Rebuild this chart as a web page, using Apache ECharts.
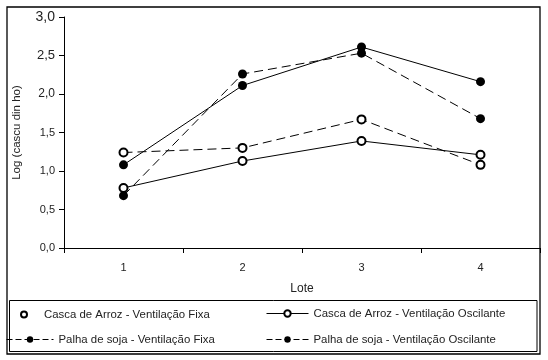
<!DOCTYPE html>
<html>
<head>
<meta charset="utf-8">
<script src="https://cdn.jsdelivr.net/npm/echarts@6/dist/echarts.min.js"></script>
<style>
html,body{margin:0;padding:0;background:#fff;}
#c{width:548px;height:360px;}
</style>
</head>
<body>
<div id="c"></div>
<script>
// ---- data ----
var categories = ['1', '2', '3', '4'];
var yTickLabels = ['0,0', '0,5', '1,0', '1,5', '2,0', '2,5', '3,0'];
var cascaFixa = [1.24, 1.30, 1.67, 1.08];        // open circles, dashed
var cascaOscilante = [0.78, 1.13, 1.39, 1.21];   // open circles, solid
var palhaFixa = [0.68, 2.26, 2.53, 1.68];        // filled circles, dashed
var palhaOscilante = [1.08, 2.11, 2.61, 2.16];   // filled circles, solid
var names = [
  'Casca de Arroz - Ventilação Fixa',
  'Casca de Arroz - Ventilação Oscilante',
  'Palha de soja - Ventilação Fixa',
  'Palha de soja - Ventilação Oscilante'
];

var FONT = 'Liberation Sans, Arial, sans-serif';
var TXT = '#222';
var dash = [9, 5];
var legendDash = [6, 3];

var chart = echarts.init(document.getElementById('c'), null, {renderer: 'canvas'});

function legendBox(name, left, top, itemWidth, itemHeight, extra) {
  return {
    data: [Object.assign({name: name}, extra || {})],
    left: left, top: top,
    itemWidth: itemWidth, itemHeight: itemHeight,
    padding: 0,
    selectedMode: false,
    lineStyle: {width: 1},
    itemStyle: {borderWidth: 1},
    textStyle: {fontFamily: FONT, fontSize: 11.4, color: TXT}
  };
}

var option = {
  backgroundColor: '#fff',
  animation: false,
  grid: {left: 64, right: 8, top: 17, bottom: 112, containLabel: false},
  xAxis: {
    type: 'category',
    data: categories,
    boundaryGap: true,
    name: 'Lote',
    nameLocation: 'middle',
    nameGap: 35,
    nameTextStyle: {fontFamily: FONT, fontSize: 12, color: TXT},
    axisLine: {lineStyle: {color: '#000', width: 1}},
    axisTick: {show: true, length: 5, lineStyle: {color: '#000'}},
    axisLabel: {margin: 14, fontFamily: FONT, fontSize: 11, color: TXT},
    splitLine: {show: false}
  },
  yAxis: {
    type: 'value',
    min: 0, max: 3, interval: 0.5,
    name: 'Log (cascu din ho)',
    nameLocation: 'middle',
    nameGap: 41,
    nameRotate: 90,
    nameTextStyle: {fontFamily: FONT, fontSize: 11.5, color: TXT},
    axisLine: {show: true, lineStyle: {color: '#000', width: 1}},
    axisTick: {show: true, length: 5, lineStyle: {color: '#000'}},
    splitLine: {show: false},
    axisLabel: {
      margin: 9,
      fontFamily: FONT,
      color: TXT,
      formatter: function (v) {
        var idx = Math.round(v / 0.5);
        var s = yTickLabels[idx];
        var key = idx === 6 ? 'a' : idx === 5 ? 'b' : idx === 4 ? 'c' : 'd';
        return '{' + key + '|' + s + '}';
      },
      rich: {
        a: {fontSize: 14, fontFamily: FONT, color: TXT},
        b: {fontSize: 13, fontFamily: FONT, color: TXT},
        c: {fontSize: 12, fontFamily: FONT, color: TXT},
        d: {fontSize: 11, fontFamily: FONT, color: TXT}
      }
    }
  },
  legend: [
    legendBox(names[0], 20, 309, 30, 6, {icon: 'emptyCircle'}),
    legendBox(names[1], 266, 308, 42, 8, {lineStyle: {width: 1, type: 'solid'}}),
    legendBox(names[2], 6, 334, 47, 8, {lineStyle: {width: 1, type: legendDash}}),
    legendBox(names[3], 266, 334, 42, 8, {lineStyle: {width: 1, type: legendDash}})
  ],
  series: [
    {
      name: names[0], type: 'line', data: cascaFixa,
      symbol: 'emptyCircle', symbolSize: 8,
      lineStyle: {color: '#000', width: 1, type: dash},
      itemStyle: {color: '#000', borderColor: '#000', borderWidth: 1}
    },
    {
      name: names[1], type: 'line', data: cascaOscilante,
      symbol: 'emptyCircle', symbolSize: 8,
      lineStyle: {color: '#000', width: 1, type: 'solid'},
      itemStyle: {color: '#000', borderColor: '#000', borderWidth: 1}
    },
    {
      name: names[2], type: 'line', data: palhaFixa,
      symbol: 'circle', symbolSize: 9,
      lineStyle: {color: '#000', width: 1, type: dash},
      itemStyle: {color: '#000'}
    },
    {
      name: names[3], type: 'line', data: palhaOscilante,
      symbol: 'circle', symbolSize: 9,
      lineStyle: {color: '#000', width: 1, type: 'solid'},
      itemStyle: {color: '#000'}
    }
  ],
  graphic: [
    {type: 'rect', shape: {x: 7, y: 7, width: 533, height: 347}, style: {fill: null, stroke: '#000', lineWidth: 1.3}, silent: true, z: -1},
    {type: 'rect', shape: {x: 9.5, y: 300.5, width: 527.5, height: 51}, style: {fill: null, stroke: '#000', lineWidth: 1}, silent: true, z: -1}
  ]
};
chart.setOption(option);
</script>
</body>
</html>
